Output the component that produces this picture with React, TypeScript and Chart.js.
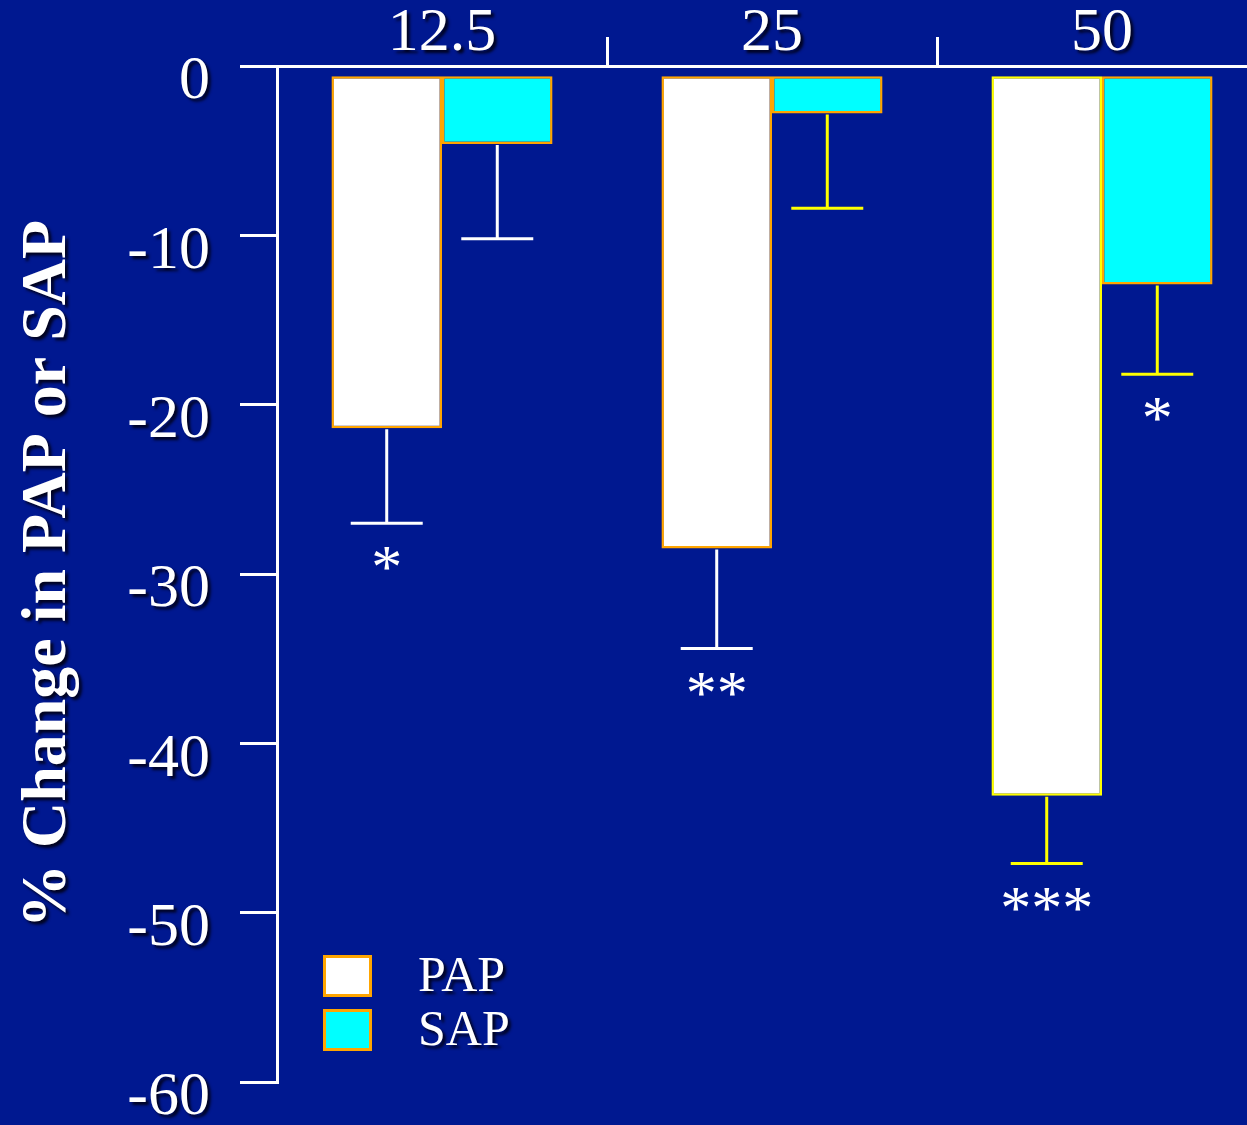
import { useEffect, useRef } from 'react';
import { Chart, registerables } from 'chart.js';

Chart.register(...registerables);

// ---- data ----
const doses = ['12.5', '25', '50'];
const barStart = -0.6;
const papMean = [-21.4, -28.5, -43.1];
const papErrEnd = [-27.0, -34.4, -47.1];
const sapMean = [-4.6, -2.8, -12.9];
const sapErrEnd = [-10.2, -8.4, -18.2];
const papSig = ['*', '**', '***'];
const sapSig = ['', '', '*'];
const yMin = -60;
const yMax = 0;
const yStep = 10;
const seriesNames = ['PAP', 'SAP'];

// ---- styles ----
const BG = '#001890';
const SERIF = '"Liberation Serif", "Times New Roman", serif';
const ORANGE = '#FFA500';
const YELLOW = '#FFFF00';
const WHITE = '#FFFFFF';
const CYAN = '#00FFFF';
const papBorder = [ORANGE, ORANGE, YELLOW];
const sapBorder = [ORANGE, ORANGE, ORANGE];
const papErrColor = [WHITE, WHITE, YELLOW];
const sapErrColor = [WHITE, YELLOW, YELLOW];

let shadowOff = false;

const errorBarsPlugin = {
  id: 'errorBars',
  afterDatasetsDraw(chart: any) {
    const ctx = chart.ctx;
    const ys = chart.scales.y;
    const ends = [papErrEnd, sapErrEnd];
    const colors = [papErrColor, sapErrColor];
    const sigs = [papSig, sapSig];
    chart.data.datasets.forEach((_ds: any, di: number) => {
      const meta = chart.getDatasetMeta(di);
      meta.data.forEach((el: any, i: number) => {
        const x = el.x;
        const y0 = el.y + 1;
        const y1 = ys.getPixelForValue(ends[di][i]);
        ctx.save();
        ctx.strokeStyle = colors[di][i];
        ctx.lineWidth = 3;
        ctx.beginPath();
        ctx.moveTo(x, y0);
        ctx.lineTo(x, y1);
        ctx.moveTo(x - 36, y1);
        ctx.lineTo(x + 36, y1);
        ctx.stroke();
        const s = sigs[di][i];
        if (s) {
          ctx.fillStyle = WHITE;
          ctx.font = `62px ${SERIF}`;
          ctx.textAlign = 'center';
          ctx.textBaseline = 'middle';
          shadowOff = true;
          ctx.fillText(s, x, y1 + 48);
          shadowOff = false;
        }
        ctx.restore();
      });
    });
  },
};

const legendPlugin = {
  id: 'insideLegend',
  afterDraw(chart: any) {
    const ctx = chart.ctx;
    const area = chart.chartArea;
    const bx = area.left + 46;
    const by0 = area.bottom - 127;
    chart.data.datasets.forEach((ds: any, i: number) => {
      const by = by0 + i * 54;
      ctx.save();
      ctx.fillStyle = ds.backgroundColor;
      ctx.fillRect(bx, by, 49, 42);
      ctx.strokeStyle = ORANGE;
      ctx.lineWidth = 3;
      ctx.strokeRect(bx + 1.5, by + 1.5, 46, 39);
      ctx.fillStyle = WHITE;
      ctx.font = `50px ${SERIF}`;
      ctx.textAlign = 'left';
      ctx.textBaseline = 'middle';
      ctx.fillText(ds.label, bx + 95, by + 23);
      ctx.restore();
    });
  },
};

export default function App() {
  const ref = useRef<HTMLCanvasElement | null>(null);

  useEffect(() => {
    const canvas = ref.current;
    if (!canvas) return;
    document.documentElement.style.overflow = 'hidden';
    document.body.style.overflow = 'hidden';
    document.body.style.background = BG;
    const ctx = canvas.getContext('2d') as CanvasRenderingContext2D;
    const orig = ctx.fillText.bind(ctx);
    (ctx as any).fillText = (t: string, x: number, y: number, mw?: number) => {
      if (shadowOff) {
        if (mw === undefined) orig(t, x, y); else orig(t, x, y, mw);
        return;
      }
      ctx.save();
      ctx.shadowColor = 'rgba(0,0,20,0.9)';
      ctx.shadowOffsetX = 3;
      ctx.shadowOffsetY = 3;
      ctx.shadowBlur = 3;
      if (mw === undefined) orig(t, x, y); else orig(t, x, y, mw);
      ctx.restore();
    };

    const chart = new Chart(canvas, {
      type: 'bar',
      data: {
        labels: doses,
        datasets: [
          {
            label: seriesNames[0],
            data: papMean.map((v) => [barStart, v]) as any,
            backgroundColor: WHITE,
            borderColor: papBorder,
            borderWidth: 2.5,
            borderSkipped: false,
            categoryPercentage: 0.67,
            barPercentage: 1.0,
          },
          {
            label: seriesNames[1],
            data: sapMean.map((v) => [barStart, v]) as any,
            backgroundColor: CYAN,
            borderColor: sapBorder,
            borderWidth: 2.5,
            borderSkipped: false,
            categoryPercentage: 0.67,
            barPercentage: 1.0,
          },
        ],
      },
      options: {
        responsive: false,
        animation: false,
        devicePixelRatio: 1,
        layout: { padding: { top: 0, left: 0, right: 0, bottom: 43 } },
        plugins: {
          legend: { display: false },
          tooltip: { enabled: false },
        },
        scales: {
          x: {
            type: 'category',
            position: 'top',
            offset: true,
            grid: {
              offset: true,
              drawOnChartArea: false,
              drawTicks: true,
              tickLength: 29,
              lineWidth: 3,
              color: (c: any) => (c.index === 0 ? 'rgba(0,0,0,0)' : WHITE),
            },
            border: { display: true, color: WHITE, width: 3 },
            ticks: {
              color: WHITE,
              font: { family: SERIF, size: 62 },
              padding: -34,
              maxRotation: 0,
              autoSkip: false,
            },
            afterFit: (s: any) => {
              s.height = 66;
              s.paddingLeft = 0;
              s.paddingRight = 0;
            },
          },
          y: {
            type: 'linear',
            position: 'left',
            min: yMin,
            max: yMax,
            grid: {
              drawOnChartArea: false,
              drawTicks: true,
              tickLength: 37,
              lineWidth: 3,
              color: WHITE,
            },
            border: { display: true, color: WHITE, width: 3 },
            ticks: {
              stepSize: yStep,
              color: WHITE,
              font: { family: SERIF, size: 62 },
              padding: 30,
              labelOffset: 16,
              autoSkip: false,
            },
            title: {
              display: true,
              text: '% Change in PAP or SAP',
              color: WHITE,
              font: { family: SERIF, size: 64, weight: 'bold' },
              padding: { top: 10, bottom: 0 },
            },
            afterFit: (s: any) => {
              s.width = 277;
              s.paddingTop = 0;
              s.paddingBottom = 0;
            },
          },
        },
      },
      plugins: [errorBarsPlugin, legendPlugin],
    });
    return () => {
      chart.destroy();
    };
  }, []);

  return (
    <div style={{ position: 'fixed', left: 0, top: 0, width: '100vw', height: '100vh', background: BG, overflow: 'hidden' }}>
      <canvas ref={ref} width={1267} height={1125} style={{ display: 'block' }} />
    </div>
  );
}
